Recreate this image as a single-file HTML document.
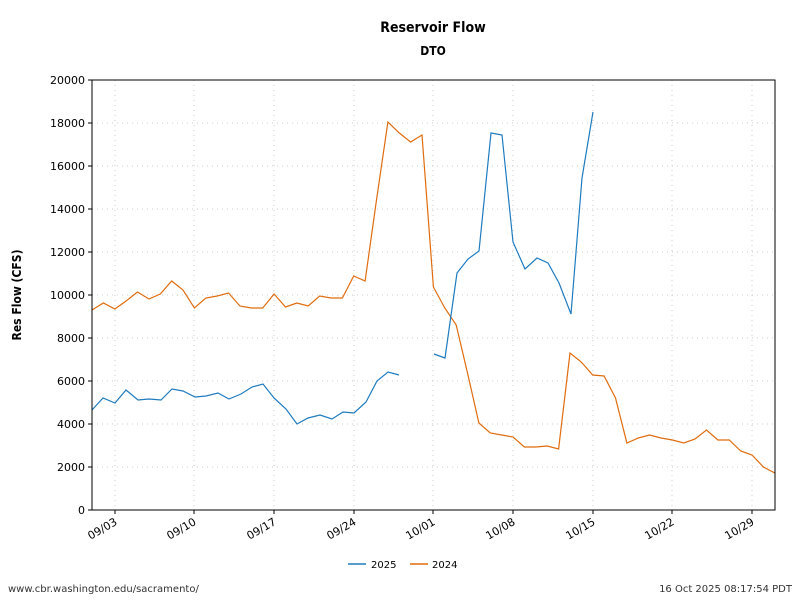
<!DOCTYPE html>
<html><head><meta charset="utf-8"><style>body{margin:0;background:#fff}svg{display:block;font-family:"DejaVu Sans","Liberation Sans",sans-serif}.cd{font-family:"DejaVu Sans Condensed","DejaVu Sans","Liberation Sans",sans-serif;font-stretch:condensed}</style></head><body>
<svg width="800" height="600" viewBox="0 0 800 600" xmlns="http://www.w3.org/2000/svg">
<rect width="800" height="600" fill="#fff"/>
<text class="cd" x="433" y="32" text-anchor="middle" font-size="14" font-weight="bold">Reservoir Flow</text>
<text class="cd" x="433" y="55" text-anchor="middle" font-size="12" font-weight="bold">DTO</text>
<g stroke="#ccc" stroke-width="1" stroke-dasharray="1,4">
<line x1="92" x2="775" y1="123" y2="123"/><line x1="92" x2="775" y1="166" y2="166"/><line x1="92" x2="775" y1="209" y2="209"/><line x1="92" x2="775" y1="252" y2="252"/><line x1="92" x2="775" y1="295" y2="295"/><line x1="92" x2="775" y1="338" y2="338"/><line x1="92" x2="775" y1="381" y2="381"/><line x1="92" x2="775" y1="424" y2="424"/><line x1="92" x2="775" y1="467" y2="467"/>
<line y1="80" y2="510" x1="115" x2="115"/><line y1="80" y2="510" x1="194" x2="194"/><line y1="80" y2="510" x1="274" x2="274"/><line y1="80" y2="510" x1="354" x2="354"/><line y1="80" y2="510" x1="433" x2="433"/><line y1="80" y2="510" x1="513" x2="513"/><line y1="80" y2="510" x1="593" x2="593"/><line y1="80" y2="510" x1="672" x2="672"/><line y1="80" y2="510" x1="752" x2="752"/>
</g>
<polyline fill="none" stroke="#e06c0f" stroke-width="1.2" points="92,310 103.4,303 114.8,309 126.1,301 137.5,292 148.9,299 160.3,294 171.7,281 183,290 194.4,308 205.8,298 217.2,296 228.6,293 239.9,306 251.3,308 262.7,308 274.1,294 285.5,307 296.8,303 308.2,306 319.6,296 331,298 342.4,298 353.7,276 365.1,281 376.5,200 387.9,122 399.3,133 410.6,142 422,135 433.4,287 444.8,308 456.2,325 467.5,373 478.9,423 490.3,433 501.7,435 513.1,437 524.4,447 535.8,447 547.2,446 558.6,449 570,353 581.3,362 592.7,375 604.1,376 615.5,398 626.9,443 638.2,438 649.6,435 661,438 672.4,440 683.8,443 695.1,439 706.5,430 717.9,440 729.3,440 740.7,451 752,455 763.4,467 774.8,473"/>
<polyline fill="none" stroke="#1f7bbf" stroke-width="1.2" points="92,410 103,398 115,403 126,390 138,400 149,399 161,400 172,389 183,391 195,397 206,396 218,393 229,399 241,394 252,387 263,384 274,398 286,409 297,424 308,418 320,415 332,419 343,412 354,413 366,402 377,381 388,372 399,375"/>
<polyline fill="none" stroke="#1f7bbf" stroke-width="1.2" points="434,354 445,358 457,273 468,259 479,251 491,133 502,135 513,242 525,269 537,258 548,263 559,283 571,314 582,178 593,112"/>
<rect x="92" y="80" width="683" height="430" fill="none" stroke="#000" stroke-width="1"/>
<g stroke="#000"><line x1="88" x2="92" y1="80" y2="80"/><line x1="88" x2="92" y1="123" y2="123"/><line x1="88" x2="92" y1="166" y2="166"/><line x1="88" x2="92" y1="209" y2="209"/><line x1="88" x2="92" y1="252" y2="252"/><line x1="88" x2="92" y1="295" y2="295"/><line x1="88" x2="92" y1="338" y2="338"/><line x1="88" x2="92" y1="381" y2="381"/><line x1="88" x2="92" y1="424" y2="424"/><line x1="88" x2="92" y1="467" y2="467"/><line x1="88" x2="92" y1="510" y2="510"/>
<line y1="510" y2="514" x1="115" x2="115"/><line y1="510" y2="514" x1="194" x2="194"/><line y1="510" y2="514" x1="274" x2="274"/><line y1="510" y2="514" x1="354" x2="354"/><line y1="510" y2="514" x1="433" x2="433"/><line y1="510" y2="514" x1="513" x2="513"/><line y1="510" y2="514" x1="593" x2="593"/><line y1="510" y2="514" x1="672" x2="672"/><line y1="510" y2="514" x1="752" x2="752"/></g>
<g font-size="11" text-anchor="end">
<text x="85" y="84">20000</text><text x="85" y="127">18000</text><text x="85" y="170">16000</text><text x="85" y="213">14000</text><text x="85" y="256">12000</text><text x="85" y="299">10000</text><text x="85" y="342">8000</text><text x="85" y="385">6000</text><text x="85" y="428">4000</text><text x="85" y="471">2000</text><text x="85" y="514">0</text>
<text transform="translate(118,524) rotate(-30)">09/03</text><text transform="translate(197,524) rotate(-30)">09/10</text><text transform="translate(277,524) rotate(-30)">09/17</text><text transform="translate(357,524) rotate(-30)">09/24</text><text transform="translate(436,524) rotate(-30)">10/01</text><text transform="translate(516,524) rotate(-30)">10/08</text><text transform="translate(596,524) rotate(-30)">10/15</text><text transform="translate(675,524) rotate(-30)">10/22</text><text transform="translate(755,524) rotate(-30)">10/29</text>
</g>
<text class="cd" transform="translate(21,295) rotate(-90)" text-anchor="middle" font-size="12" font-weight="bold">Res Flow (CFS)</text>
<line x1="348" x2="366" y1="564" y2="564" stroke="#1f7bbf" stroke-width="1.5"/><text x="371" y="568" font-size="10">2025</text>
<line x1="410" x2="428" y1="564" y2="564" stroke="#e06c0f" stroke-width="1.5"/><text x="432" y="568" font-size="10">2024</text>
<text x="8" y="592" font-size="10" fill="#333">www.cbr.washington.edu/sacramento/</text>
<text x="792" y="592" font-size="10" fill="#333" text-anchor="end">16 Oct 2025 08:17:54 PDT</text>
</svg>
</body></html>
